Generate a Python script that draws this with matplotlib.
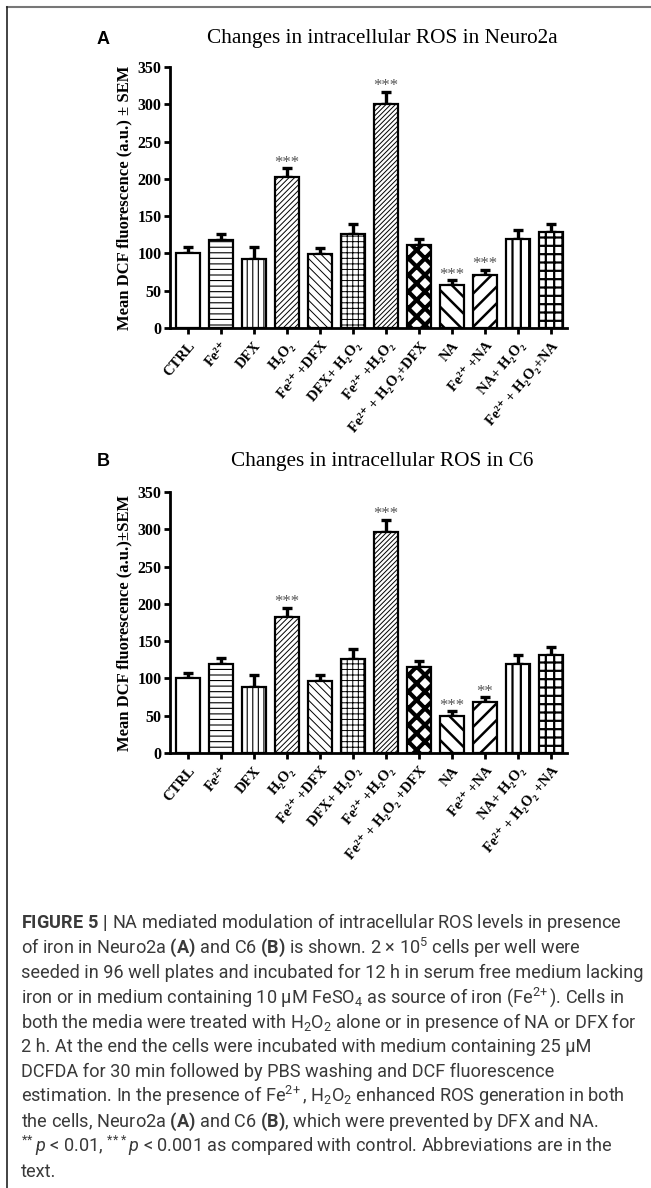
import numpy as np
import matplotlib.pyplot as plt
from matplotlib.lines import Line2D

# treatment groups (panel A and B labels differ slightly in spacing)
labels_a = ['CTRL', 'Fe²⁺', 'DFX', 'H₂O₂', 'Fe²⁺ +DFX', 'DFX+ H₂O₂', 'Fe²⁺ +H₂O₂',
            'Fe²⁺ + H₂O₂+DFX', 'NA', 'Fe²⁺ +NA', 'NA+ H₂O₂', 'Fe²⁺ + H₂O₂+NA']
labels_b = ['CTRL', 'Fe²⁺', 'DFX', 'H₂O₂', 'Fe²⁺ +DFX', 'DFX+ H₂O₂', 'Fe²⁺ +H₂O₂',
            'Fe²⁺ + H₂O₂ +DFX', 'NA', 'Fe²⁺ +NA', 'NA+ H₂O₂', 'Fe²⁺ + H₂O₂ +NA']

ros_neuro2a = [100, 118, 93, 202, 99, 126, 301, 111, 58, 71, 119, 129]
sem_neuro2a = [8, 8, 15, 12, 8, 13, 16, 9, 6, 7, 13, 10]
stars_neuro2a = ['', '', '', '***', '', '', '***', '', '***', '***', '', '']

ros_c6 = [100, 119, 89, 183, 97, 126, 296, 115, 50, 68, 119, 132]
sem_c6 = [7, 9, 15, 12, 7, 13, 17, 9, 6, 7, 12, 10]
stars_c6 = ['', '', '', '***', '', '', '***', '', '***', '**', '', '']

hatches = ['', '---', '|||', '//////', '\\\\\\\\', '+++', '///////', 'xx',
           '\\\\', '//', '||', '++']
hatch_lw = [0.8, 0.8, 0.8, 0.7, 0.7, 0.7, 0.7, 3.0, 1.8, 1.8, 1.6, 1.6]

SERIF = ['Liberation Serif', 'DejaVu Serif']
SANS = ['Liberation Sans', 'DejaVu Sans']
CAP = ['Roboto', 'Liberation Sans', 'DejaVu Sans']

plt.rcParams['mathtext.fontset'] = 'custom'
plt.rcParams['mathtext.rm'] = 'Roboto'
plt.rcParams['mathtext.bf'] = 'Roboto:bold'
plt.rcParams['mathtext.it'] = 'Roboto:italic'

W, H = 651, 1188
fig = plt.figure(figsize=(W / 100, H / 100), dpi=100)


def panel(rect, vals, errs, labels, stars, ylabel, title, letter, title_y):
    ax = fig.add_axes(rect)
    x = np.arange(len(vals))
    ax.errorbar(x, vals, yerr=[np.zeros(len(errs)), errs], fmt='none',
                ecolor='black', elinewidth=2.4, capsize=3.5, capthick=2.4, zorder=1)
    bars = ax.bar(x, vals, width=0.7, color='white', edgecolor='black',
                  linewidth=1.6, zorder=2)
    for b, h, lw in zip(bars, hatches, hatch_lw):
        b.set_hatch(h)
        if hasattr(b, 'set_hatch_linewidth'):
            b.set_hatch_linewidth(lw)
    for xi, v, e, s in zip(x, vals, errs, stars):
        if s:
            ax.text(xi, v + e + 2, s, ha='center', va='baseline', fontsize=12,
                    family=SERIF, color='#555555')
    ax.set_xlim(-0.545, 11.485)
    ax.set_ylim(0, 350)
    ax.spines['top'].set_visible(False)
    ax.spines['right'].set_visible(False)
    ax.spines['left'].set_linewidth(2)
    ax.spines['bottom'].set_linewidth(2)
    ax.set_yticks(range(0, 351, 50))
    ax.set_yticklabels([str(t) for t in range(0, 351, 50)], family=SERIF,
                       fontweight='bold', fontsize=11.5)
    ax.set_xticks(x)
    ax.set_xticklabels(labels, rotation=50, ha='right', rotation_mode='anchor',
                       family=SERIF, fontweight='bold', fontsize=10.5)
    ax.tick_params(axis='y', length=4, width=2, pad=2)
    ax.tick_params(axis='x', length=4, width=2, pad=4)
    ax.set_ylabel(ylabel, family=SERIF, fontweight='bold', fontsize=12, labelpad=4)
    fig.text(382 / W, 1 - title_y / H, title, ha='center', va='center',
             family=SERIF, fontsize=15.3)
    fig.text(97 / W, 1 - title_y / H, letter, ha='left', va='center',
             family=SANS, fontweight='bold', fontsize=13)
    return ax


ax_a = panel([170 / W, 1 - 328 / H, 397 / W, 261 / H], ros_neuro2a, sem_neuro2a,
             labels_a, stars_neuro2a, 'Mean DCF fluorescence (a.u.) ± SEM',
             'Changes in intracellular ROS in Neuro2a', 'A', 39)
ax_b = panel([170 / W, 1 - 753 / H, 397 / W, 261 / H], ros_c6, sem_c6,
             labels_b, stars_c6, 'Mean DCF fluorescence (a.u.)±SEM',
             'Changes in intracellular ROS in C6', 'B', 462)

# border lines of the figure box
fig.add_artist(Line2D([7 / W, 1], [1 - 7 / H, 1 - 7 / H], color='#777777', lw=1.5))
fig.add_artist(Line2D([7 / W, 7 / W], [1 - 7 / H, 0], color='#222222', lw=1.2))

caption = [
    r'$\mathbf{FIGURE\ 5\ |}$ NA mediated modulation of intracellular ROS levels in presence',
    r'of iron in Neuro2a $\mathbf{(A)}$ and C6 $\mathbf{(B)}$ is shown. 2 × $10^{5}$ cells per well were',
    'seeded in 96 well plates and incubated for 12 h in serum free medium lacking',
    r'iron or in medium containing 10 μM $\mathrm{FeSO}_{4}$ as source of iron ($\mathrm{Fe}^{2\!+}$). Cells in',
    r'both the media were treated with $\mathrm{H}_{2}\mathrm{O}_{2}$ alone or in presence of NA or DFX for',
    '2 h. At the end the cells were incubated with medium containing 25 μM',
    'DCFDA for 30 min followed by PBS washing and DCF fluorescence',
    r'estimation. In the presence of $\mathrm{Fe}^{2\!+}$, $\mathrm{H}_{2}\mathrm{O}_{2}$ enhanced ROS generation in both',
    r'the cells, Neuro2a $\mathbf{(A)}$ and C6 $\mathbf{(B)}$, which were prevented by DFX and NA.',
    r'$^{*\!*}p$ < 0.01, $^{*\!*\!*}p$ < 0.001 as compared with control. Abbreviations are in the',
    'text.',
]

# fit caption font size so the third line spans the text block width
renderer = fig.canvas.get_renderer()
probe = fig.text(0, 0, caption[2], family=CAP, fontsize=12)
wpx = probe.get_window_extent(renderer).width
probe.remove()
cap_size = 12 * 618 / wpx

for i, line in enumerate(caption):
    fig.text(21 / W, 1 - (928 + 24.9 * i) / H, line, ha='left', va='baseline',
             family=CAP, fontsize=cap_size, color='#3a3a3a')

fig.savefig('out.png', dpi=100)
